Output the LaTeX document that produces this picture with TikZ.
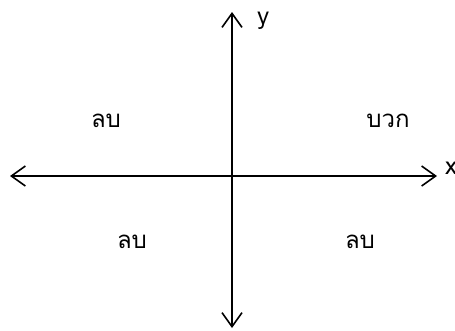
\documentclass[tikz,border=0pt]{standalone}
\usepackage{fontspec}
\newfontfamily\thaifont[Script=Thai]{Loma}
\usetikzlibrary{arrows.meta}
\begin{document}
\begin{tikzpicture}[x=1pt,y=-1pt,
  axis/.style={line width=1.6pt,{Straight Barb[length=14pt,width=20pt,line width=1.6pt]}-{Straight Barb[length=14pt,width=20pt,line width=1.6pt]}},
  lbl/.style={font=\thaifont\fontsize{24}{28}\selectfont,inner sep=0pt}]
\useasboundingbox (0,0) rectangle (455,330);
\coordinate (L) at (10,176);
\coordinate (R) at (437,176);
\coordinate (T) at (232,12);
\coordinate (B) at (232,328);
\draw[axis] (L) -- (R);
\draw[axis] (B) -- (T);
\node[lbl] (ylab) at (263,21) {y};
\node[lbl,anchor=west] (xlab) at (445,168) {x};
\node[lbl] (q2) at (106,121) {ลบ};
\node[lbl] (q1) at (388,121) {บวก};
\node[lbl] (q3) at (132,242) {ลบ};
\node[lbl] (q4) at (360,242) {ลบ};
\end{tikzpicture}
\end{document}
